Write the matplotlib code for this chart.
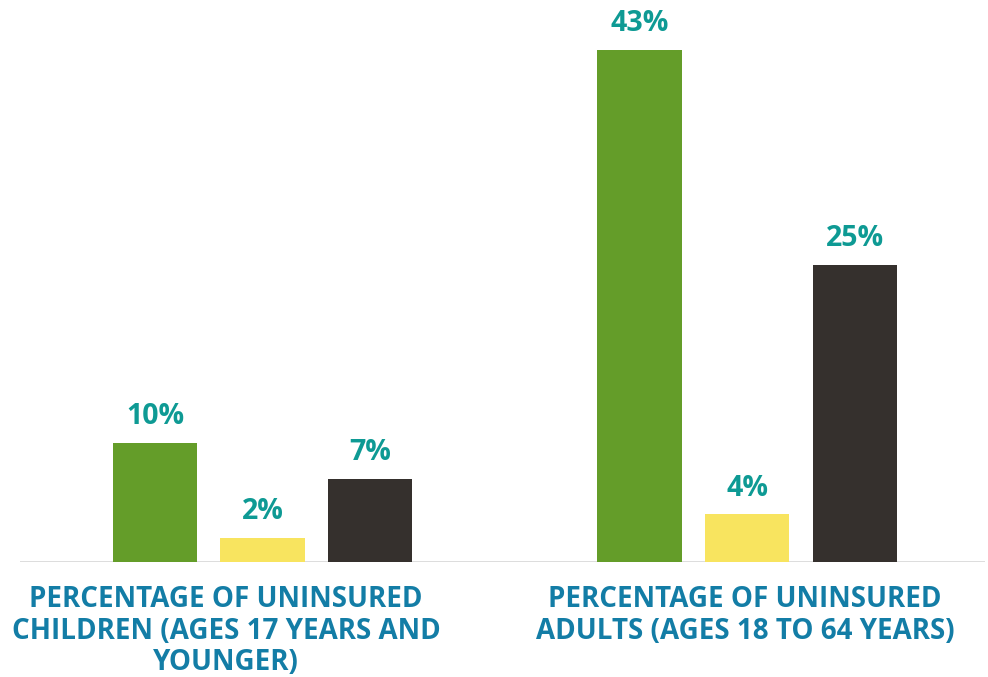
import matplotlib
matplotlib.use("Agg")
import matplotlib.pyplot as plt
import matplotlib.transforms as mtransforms
import numpy as np

# ___data___
groups = ["PERCENTAGE OF UNINSURED\nCHILDREN (AGES 17 YEARS AND\nYOUNGER)",
          "PERCENTAGE OF UNINSURED\nADULTS (AGES 18 TO 64 YEARS)"]
series_a = [10, 43]   # green
series_b = [2, 4]     # yellow
series_c = [7, 25]    # dark
colors = ["#649d29", "#f8e45f", "#35302d"]
label_color = "#0e9a94"
group_color = "#137da6"

plt.rcParams['font.family'] = ['Open Sans', 'DejaVu Sans']

fig = plt.figure(figsize=(9.88, 6.77), dpi=100)
# axes placed so baseline sits where the reference has it
ax = fig.add_axes([20 / 988, 115 / 677, 965 / 988, (562 - 26.5) / 677])

x = np.arange(len(groups))
width = 0.1734
step = 0.2219
for i, vals in enumerate([series_a, series_b, series_c]):
    bars = ax.bar(x + (i - 1) * step, vals, width, color=colors[i], zorder=2)
    for b, v in zip(bars, vals):
        ax.annotate(f"{v}%", (b.get_x() + b.get_width() / 2, b.get_height()),
                    xytext=(0, 8.5), textcoords="offset points",
                    ha="center", va="bottom", fontsize=20.5, fontweight="bold",
                    color=label_color)

ax.set_xlim(-0.5005, 1.4912)
ax.set_ylim(0, 45)
ax.axhline(0, color="#d9d9d9", linewidth=2, zorder=1)

# group labels under the baseline (group 1 label sits a bit left of its bars)
trans = mtransforms.blended_transform_factory(ax.transData, ax.transAxes)
label_x = [-0.0753, 0.996]
for lx, txt in zip(label_x, groups):
    ax.text(lx, -23 / (562 - 26.5), txt, transform=trans, ha="center", va="top",
            fontsize=20, fontweight="bold", color=group_color, linespacing=1.12)

for s in ax.spines.values():
    s.set_visible(False)
ax.set_xticks([])
ax.set_yticks([])

fig.savefig("out.png", dpi=100)
